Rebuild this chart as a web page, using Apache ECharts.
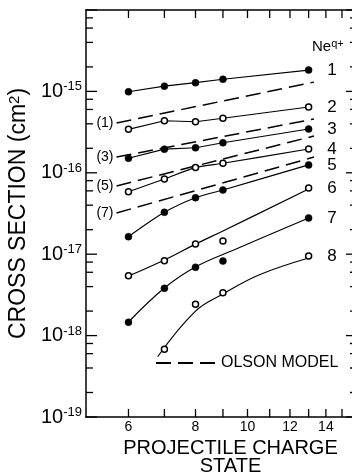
<!DOCTYPE html>
<html>
<head>
<meta charset="utf-8">
<script src="https://cdn.jsdelivr.net/npm/echarts@6/dist/echarts.min.js"></script>
<style>
  html, body { margin: 0; padding: 0; background: #fff; overflow: hidden; }
  #chart { width: 352px; height: 476px; }
</style>
</head>
<body>
<div id="chart"></div>
<script>
const FONT = 'Liberation Sans'

// measured points, Ne^q+ capture cross sections (cm^2)
const xValues = [6, 7, 8, 9, 13]
const ne1 = [9.9e-16, 1.16e-15, 1.28e-15, 1.41e-15, 1.83e-15]
const ne2 = [3.42e-16, 4.36e-16, 4.24e-16, 4.68e-16, 6.43e-16]
const ne3 = [1.51e-16, 1.95e-16, 2.03e-16, 2.34e-16, 3.45e-16]
const ne4 = [5.86e-17, 8.4e-17, 1.16e-16, 1.31e-16, 1.96e-16]
const ne5 = [1.64e-17, 3.27e-17, 4.94e-17, 6.15e-17, 1.25e-16]
const ne6 = [5.45e-18, 8.3e-18, 1.33e-17, 1.45e-17, 6.5e-17]
const ne7 = [1.46e-18, 3.81e-18, 6.9e-18, 8.24e-18, 2.79e-17]
const xValues8 = [7, 8, 9, 13]
const ne8 = [6.8e-19, 2.43e-18, 3.37e-18, 9.5e-18]

// hand drawn curves for 6, 7, 8
const fitX6 = [6, 7, 8, 9, 13]
const fit6 = [5.39e-18, 8.49e-18, 1.33e-17, 1.93e-17, 6.32e-17]
const fitX7 = [6, 7, 8, 9.5, 13]
const fit7 = [1.47e-18, 3.85e-18, 6.97e-18, 1.15e-17, 2.79e-17]
const fitX8 = [6.8, 8, 9, 10.5, 13]
const fit8 = [5.5e-19, 2.0e-18, 3.24e-18, 5.55e-18, 8.97e-18]

// Olson model (dashed)
const olsonX = [5.7, 13.3]
const olson1 = [4.09e-16, 1.30e-15]
const olson3 = [1.56e-16, 4.58e-16]
const olson5 = [6.89e-17, 2.83e-16]
const olson7 = [3.21e-17, 1.56e-16]

// ticks
const xTicks = [6, 7, 8, 9, 10, 11, 12, 13, 14, 15]
const xTickLabels = [6, 8, 10, 12, 14]
const yDecades = [-19, -18, -17, -16, -15, -14]
const yMinor = [2, 4, 6, 8]

const pairs = function (xs, ys) {
    return xs.map((x, i) => [x, ys[i]])
}

const measured = function (name, xs, ys, filled, showLine, smooth) {
    const data = pairs(xs, ys).map((p, i) => {
        if (i === xs.length - 1) {
            return {
                value: p,
                label: {
                    show: true, position: 'right', distance: 15,
                    formatter: name, fontSize: 17, fontFamily: FONT, color: '#000'
                }
            }
        }
        return p
    })
    return {
        name: name,
        type: 'line',
        data: data,
        smooth: smooth,
        symbol: 'circle',
        symbolSize: filled ? 7 : 6,
        itemStyle: { color: filled ? '#000' : '#fff', borderColor: '#000', borderWidth: filled ? 0.5 : 1.5 },
        lineStyle: { color: '#000', width: showLine ? 1.2 : 0, opacity: showLine ? 1 : 0 },
        z: 3,
        animation: false
    }
}

const curve = function (xs, ys) {
    return {
        type: 'line',
        data: pairs(xs, ys),
        smooth: 0.4,
        symbol: 'none',
        lineStyle: { color: '#000', width: 1.2 },
        z: 2,
        animation: false
    }
}

const olson = function (tag, ys) {
    const data = pairs(olsonX, ys)
    data[0] = {
        value: data[0],
        label: {
            show: true, position: 'left', distance: 3,
            formatter: tag, fontSize: 14, fontFamily: FONT, color: '#000'
        }
    }
    return {
        name: 'OLSON MODEL',
        type: 'line',
        data: data,
        symbol: 'circle',
        symbolSize: 0,
        lineStyle: { color: '#000', width: 1.5, type: [15, 7] },
        itemStyle: { color: '#000' },
        z: 2,
        animation: false
    }
}

// y tick list: [x at left edge, value, length]
const yTickData = []
yDecades.forEach(e => {
    yTickData.push([5, Math.pow(10, e), 11])
    if (e < -14) {
        yMinor.forEach(m => yTickData.push([5, m * Math.pow(10, e), 7]))
    }
})

const myChart = echarts.init(document.getElementById('chart'))

const option = {
    animation: false,
    grid: {
        left: 86, top: 10, width: 271, height: 407,
        outerBoundsMode: 'none',
        containLabel: false,
        show: false
    },
    legend: {
        data: ['OLSON MODEL'],
        left: 150, top: 350,
        itemWidth: 60, itemHeight: 14, itemGap: 12,
        itemStyle: { color: 'rgba(0,0,0,0)', borderColor: 'rgba(0,0,0,0)', borderWidth: 0 },
        textStyle: { fontSize: 16, fontFamily: FONT, color: '#000' }
    },
    xAxis: [
        {
            type: 'log',
            logBase: 10,
            min: 5,
            max: 16,
            name: 'PROJECTILE CHARGE\nSTATE',
            nameLocation: 'middle',
            nameGap: 22,
            nameTextStyle: {
                fontSize: 20, fontFamily: FONT, color: '#000', lineHeight: 18,
                padding: [0, 0, 0, 18]
            },
            axisLine: { show: true, lineStyle: { color: '#000', width: 1.5 } },
            axisTick: { show: false },
            axisLabel: { show: false },
            splitLine: { show: false }
        },
        {
            type: 'log',
            logBase: 10,
            min: 5,
            max: 16,
            position: 'top',
            axisLine: { show: true, lineStyle: { color: '#000', width: 1.5 } },
            axisTick: { show: false },
            axisLabel: { show: false },
            splitLine: { show: false }
        }
    ],
    yAxis: {
        type: 'log',
        logBase: 10,
        min: 1e-19,
        max: 1e-14,
        name: 'CROSS SECTION (cm{s|2})',
        nameLocation: 'middle',
        nameRotate: 90,
        nameGap: 37,
        nameTextStyle: {
            fontSize: 23, fontFamily: FONT, color: '#000',
            rich: { s: { fontSize: 15, fontFamily: FONT, color: '#000', verticalAlign: 'top' } }
        },
        axisLine: { show: true, lineStyle: { color: '#000', width: 1.5 } },
        axisTick: { show: false },
        axisLabel: {
            margin: 4,
            formatter: function (v) {
                const e = Math.round(Math.log10(v))
                if (e >= -14) {
                    return ''
                }
                return '{b|10}{s|' + e + '}'
            },
            rich: {
                b: { fontSize: 20, fontFamily: FONT, color: '#000', lineHeight: 22 },
                s: { fontSize: 13, fontFamily: FONT, color: '#000', verticalAlign: 'top', lineHeight: 14 }
            }
        },
        splitLine: { show: false }
    },
    graphic: [
        {
            type: 'text',
            left: 312,
            top: 38,
            style: {
                text: '{n|Ne}{s|q+}',
                rich: {
                    n: { fontSize: 15, fontFamily: FONT, fill: '#000', lineHeight: 18 },
                    s: { fontSize: 11, fontFamily: FONT, fill: '#000', verticalAlign: 'top' }
                }
            }
        }
    ],
    series: [
        measured('1', xValues, ne1, true, true, false),
        measured('2', xValues, ne2, false, true, false),
        measured('3', xValues, ne3, true, true, false),
        measured('4', xValues, ne4, false, true, 0.3),
        measured('5', xValues, ne5, true, true, 0.3),
        measured('6', xValues, ne6, false, false, false),
        measured('7', xValues, ne7, true, false, false),
        measured('8', xValues8, ne8, false, false, false),
        curve(fitX6, fit6),
        curve(fitX7, fit7),
        curve(fitX8, fit8),
        olson('(1)', olson1),
        olson('(3)', olson3),
        olson('(5)', olson5),
        olson('(7)', olson7),
        {
            // x ticks top and bottom with labels
            type: 'custom',
            data: xTicks.map(q => [q, 1e-19]),
            clip: false,
            silent: true,
            z: 5,
            renderItem: function (params, api) {
                const cs = params.coordSys
                const p = api.coord([api.value(0), api.value(1)])
                const bottom = cs.y + cs.height
                const children = [
                    { type: 'line', shape: { x1: p[0], y1: bottom, x2: p[0], y2: bottom - 8 }, style: { stroke: '#000', lineWidth: 1.3 } },
                    { type: 'line', shape: { x1: p[0], y1: cs.y, x2: p[0], y2: cs.y + 8 }, style: { stroke: '#000', lineWidth: 1.3 } }
                ]
                if (xTickLabels.indexOf(api.value(0)) >= 0) {
                    children.push({
                        type: 'text',
                        style: {
                            text: String(api.value(0)), x: p[0], y: bottom + 3,
                            align: 'center', verticalAlign: 'top',
                            fontSize: 14, fontFamily: FONT, fill: '#000'
                        }
                    })
                }
                return { type: 'group', children: children }
            }
        },
        {
            // y ticks on both sides (decades long, minor short)
            type: 'custom',
            data: yTickData,
            clip: false,
            silent: true,
            z: 5,
            renderItem: function (params, api) {
                const cs = params.coordSys
                const y = api.coord([api.value(0), api.value(1)])[1]
                const len = api.value(2)
                const right = cs.x + cs.width
                return {
                    type: 'group',
                    children: [
                        { type: 'line', shape: { x1: cs.x, y1: y, x2: cs.x + len, y2: y }, style: { stroke: '#000', lineWidth: 1.3 } },
                        { type: 'line', shape: { x1: right, y1: y, x2: right - len, y2: y }, style: { stroke: '#000', lineWidth: 1.3 } }
                    ]
                }
            }
        }
    ]
}

myChart.setOption(option)
</script>
</body>
</html>
